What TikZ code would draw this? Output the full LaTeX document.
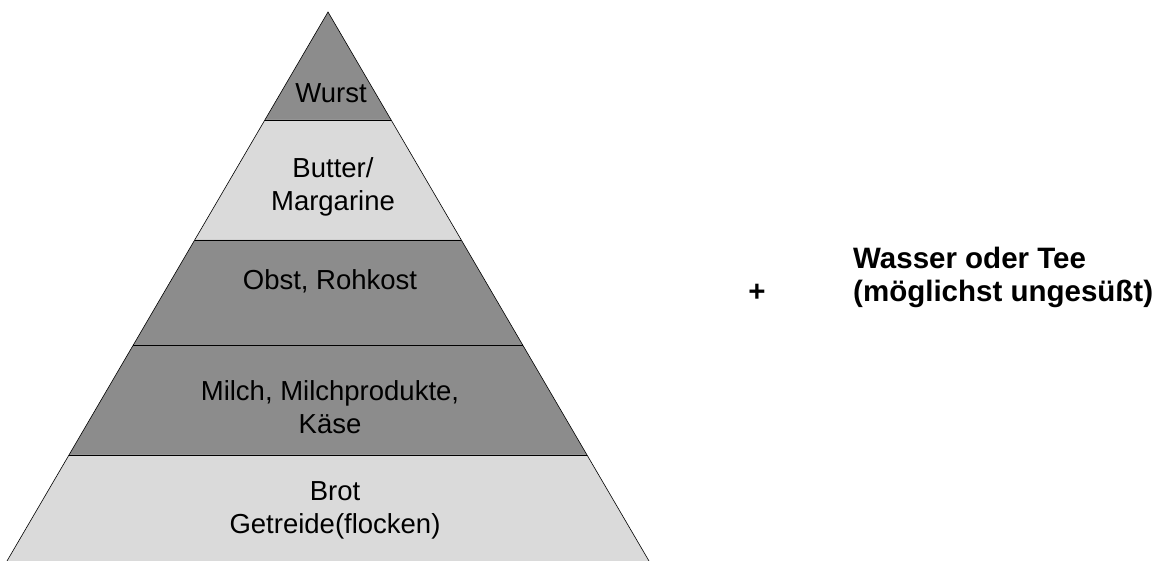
\documentclass[tikz,border=0pt]{standalone}
\usepackage{fontspec}
\setmainfont{Liberation Sans}
\usetikzlibrary{calc}

\definecolor{banddark}{RGB}{140,140,140}
\definecolor{bandlight}{RGB}{218,218,218}

\begin{document}
\begin{tikzpicture}[
    x=1pt, y=-1pt,
    font=\fontsize{27.5}{33}\selectfont,
    % Define styles for the bands and labels
    darkband/.style={fill=banddark},
    lightband/.style={fill=bandlight},
    bandline/.style={draw=black, line width=0.6pt},
    bandtext/.style={align=center, inner sep=0pt},
    sidetext/.style={align=left, inner sep=0pt, font=\fontsize{29.5}{33}\selectfont\bfseries},
]
\useasboundingbox (0,0) rectangle (1159,561);

% -------------------------
% Pyramid corners
% -------------------------
\coordinate (apex) at (328,12);
\coordinate (bl) at (7,561);
\coordinate (br) at (649,561);

% Band edges (left / right)
\coordinate (l1) at ($(apex)!0.1967!(bl)$);
\coordinate (r1) at ($(apex)!0.1967!(br)$);
\coordinate (l2) at ($(apex)!0.4153!(bl)$);
\coordinate (r2) at ($(apex)!0.4153!(br)$);
\coordinate (l3) at ($(apex)!0.6066!(bl)$);
\coordinate (r3) at ($(apex)!0.6066!(br)$);
\coordinate (l4) at ($(apex)!0.8069!(bl)$);
\coordinate (r4) at ($(apex)!0.8069!(br)$);

% -------------------------
% Bands
% -------------------------
\path[darkband] (apex) -- (r1) -- (l1) -- cycle;
\path[lightband] (l1) -- (r1) -- (r2) -- (l2) -- cycle;
\path[darkband] (l2) -- (r2) -- (r3) -- (l3) -- cycle;
\path[darkband] (l3) -- (r3) -- (r4) -- (l4) -- cycle;
\path[lightband] (l4) -- (r4) -- (br) -- (bl) -- cycle;

% Outline and dividers
\draw[bandline] (bl) -- (apex) -- (br);
\draw[bandline] (l1) -- (r1);
\draw[bandline] (l2) -- (r2);
\draw[bandline] (l3) -- (r3);
\draw[bandline] (l4) -- (r4);

% -------------------------
% Labels
% -------------------------
\node (wurst) [bandtext] at (331,93) {Wurst};
\node (butter) [bandtext] at (333,187) {Butter/\\Margarine};
\node (obst) [bandtext] at (330,281) {Obst, Rohkost};
\node (milch) [bandtext] at (330,407) {Milch, Milchprodukte,\\Käse};
\node (brot) [bandtext] at (335,510) {Brot\\Getreide(flocken)};

% Drinks beside the pyramid
\node (plus) [sidetext] at (757,293) {+};
\node (drink) [sidetext, anchor=west] at (853,277) {Wasser oder Tee\\(möglichst ungesüßt)};

\end{tikzpicture}
\end{document}
